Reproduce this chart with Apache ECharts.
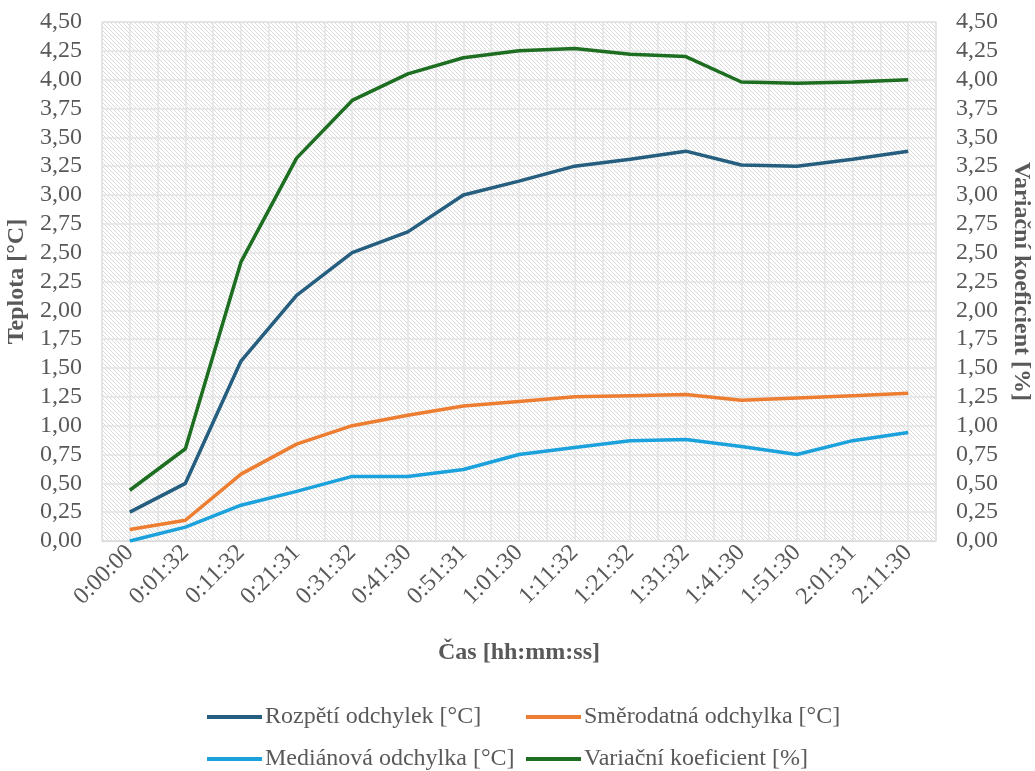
<!DOCTYPE html>
<html><head><meta charset="utf-8">
<script src="https://cdn.jsdelivr.net/npm/echarts@6/dist/echarts.min.js"></script>
<style>html,body{margin:0;padding:0;background:#fff}#c{width:1035px;height:771px}</style>
</head><body><div id="c"></div>
<script>
const categories = ['0:00:00','0:01:32','0:11:32','0:21:31','0:31:32','0:41:30','0:51:31','1:01:30','1:11:32','1:21:32','1:31:32','1:41:30','1:51:30','2:01:31','2:11:30'];
const rozpeti = [0.25,0.50,1.56,2.13,2.50,2.68,3.00,3.12,3.25,3.31,3.38,3.26,3.25,3.31,3.38];
const smerodatna = [0.10,0.18,0.58,0.84,1.00,1.09,1.17,1.21,1.25,1.26,1.27,1.22,1.24,1.26,1.28];
const medianova = [0.00,0.12,0.31,0.43,0.56,0.56,0.62,0.75,0.81,0.87,0.88,0.82,0.75,0.87,0.94];
const variacni = [0.44,0.80,2.42,3.32,3.82,4.05,4.19,4.25,4.27,4.22,4.20,3.98,3.97,3.98,4.00];
const yTicks = {min:0, max:4.5, interval:0.25};

const cv = document.createElement('canvas');
cv.width = 4; cv.height = 4;
const cx = cv.getContext('2d');
cx.fillStyle = '#ffffff'; cx.fillRect(0,0,4,4);
cx.fillStyle = '#d9d9d9';
for (let i=0;i<4;i++) cx.fillRect(i,i,1,1);

const font = '"Liberation Serif","Times New Roman",serif';
const grey = '#595959';
const fmt = v => v.toFixed(2).replace('.', ',');

const chart = echarts.init(document.getElementById('c'), null, {renderer:'canvas'});
const lineS = (name, data, color, yi) => ({
  name, type:'line', data, yAxisIndex: yi, xAxisIndex:0, symbol:'none', smooth:false,
  lineStyle:{color, width:3.5}, itemStyle:{color}, z:5
});
const leg = (name, left, top) => ({
  data:[name], left, top, padding:0, itemWidth:55, itemHeight:4, icon:'rect',
  textStyle:{fontFamily:font, fontSize:24, color:grey, padding:[0,0,0,-2]}
});
chart.setOption({
  animation:false,
  backgroundColor:'#fff',
  grid:{left:102, right:99, top:22, bottom:230, show:true, containLabel:false, outerBoundsMode:'none',
        backgroundColor:{image:cv, repeat:'repeat'}, borderColor:'#d9d9d9', borderWidth:1},
  legend:[
    leg('Rozpětí odchylek [°C]', 207, 705),
    leg('Směrodatná odchylka [°C]', 526, 705),
    leg('Mediánová odchylka [°C]', 207, 747),
    leg('Variační koeficient [%]', 526, 747)
  ],
  xAxis:[
    {type:'category', data:categories, boundaryGap:true,
     axisLine:{show:true, lineStyle:{color:'#d9d9d9', width:1}}, axisTick:{show:false},
     axisLabel:{rotate:45, fontFamily:font, fontSize:24, color:grey, margin:8, interval:0},
     splitLine:{show:false},
     name:'Čas [hh:mm:ss]', nameLocation:'middle', nameGap:100,
     nameTextStyle:{fontFamily:font, fontSize:24, fontWeight:'bold', color:grey}},
    {type:'value', min:0, max:30, interval:1, show:true, position:'top',
     axisLine:{show:false}, axisTick:{show:false}, axisLabel:{show:false},
     splitLine:{show:true, lineStyle:{color:'#e3e3e3', width:1.5}}}
  ],
  yAxis:[
    {type:'value', min:yTicks.min, max:yTicks.max, interval:yTicks.interval,
     axisLine:{show:false}, axisTick:{show:false},
     axisLabel:{formatter:fmt, fontFamily:font, fontSize:24, color:grey, margin:20},
     splitLine:{show:true, lineStyle:{color:'#e3e3e3', width:1.5}},
     name:'Teplota [°C]', nameLocation:'middle', nameGap:70, nameRotate:90,
     nameTextStyle:{fontFamily:font, fontSize:24, fontWeight:'bold', color:grey}},
    {type:'value', min:yTicks.min, max:yTicks.max, interval:yTicks.interval, position:'right',
     axisLine:{show:false}, axisTick:{show:false},
     axisLabel:{formatter:fmt, fontFamily:font, fontSize:24, color:grey, margin:20},
     splitLine:{show:false},
     name:'Variační koeficient [%]', nameLocation:'middle', nameGap:72, nameRotate:-90,
     nameTextStyle:{fontFamily:font, fontSize:24, fontWeight:'bold', color:grey}}
  ],
  series:[
    lineS('Rozpětí odchylek [°C]', rozpeti, '#255e7e', 0),
    lineS('Směrodatná odchylka [°C]', smerodatna, '#ed7d31', 0),
    lineS('Mediánová odchylka [°C]', medianova, '#1ba1db', 0),
    lineS('Variační koeficient [%]', variacni, '#1e6e22', 1)
  ]
});
</script></body></html>
